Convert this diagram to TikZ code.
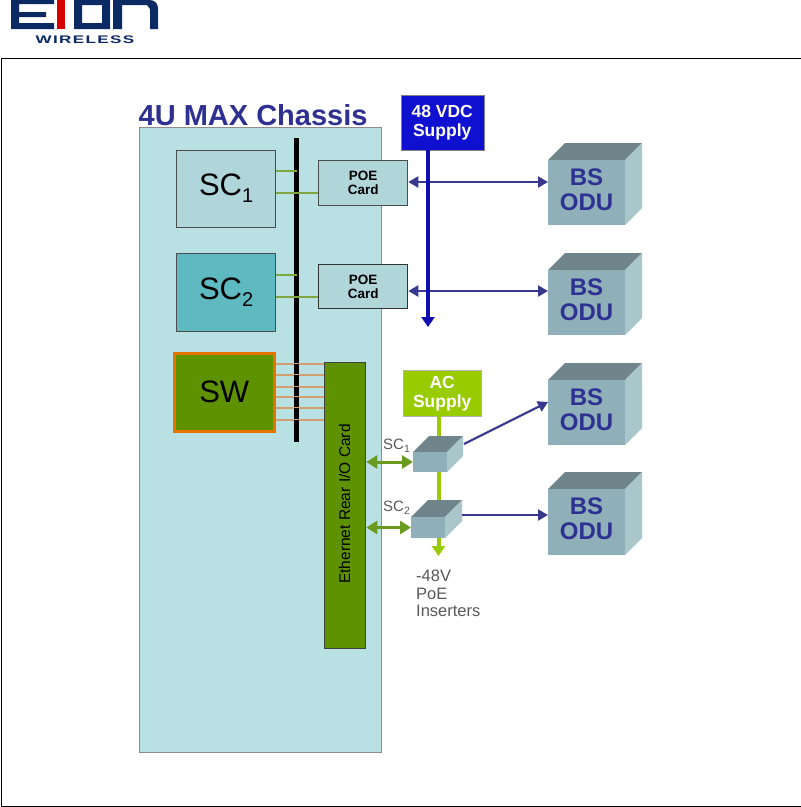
\documentclass[tikz,border=0pt]{standalone}
\usepackage{fontspec}
\setmainfont{Liberation Sans}
\usetikzlibrary{arrows.meta,calc}
\definecolor{navy}{HTML}{0B2A63}
\definecolor{chassis}{HTML}{B9E0E2}
\definecolor{indigo}{HTML}{2E3192}
\definecolor{cubefront}{HTML}{8FB0B8}
\definecolor{cubetop}{HTML}{6F858B}
\definecolor{cubeside}{HTML}{A9C6CB}
\definecolor{swgreen}{HTML}{5F9200}
\definecolor{limeg}{HTML}{99CC00}
\definecolor{arrowg}{HTML}{6A9A1F}
\definecolor{dkblue}{HTML}{38388E}
\definecolor{pureblue}{HTML}{1010D0}
\definecolor{wire}{HTML}{D2A070}
\definecolor{sctwo}{HTML}{5FB9C0}
\definecolor{scone}{HTML}{B0D6DC}
\definecolor{gwirec}{HTML}{7FA63F}
\tikzset{
  x=1pt,y=-1pt,
  box/.style={draw=#1,line width=1.3pt,anchor=north west,inner sep=0pt,align=center},
  odutext/.style={text=indigo,font=\bfseries\fontsize{24}{25}\selectfont,align=center,inner sep=0pt},
  supply/.style={anchor=north west,inner sep=0pt,align=center,text=white,font=\bfseries\fontsize{17.5}{19}\selectfont},
  poetext/.style={font=\bfseries\fontsize{13.5}{14}\selectfont},
  lab/.style={text=black!65,font=\fontsize{15}{16}\selectfont,inner sep=0pt},
  gwire/.style={draw=gwirec,line width=1.4pt},
  owire/.style={draw=wire,line width=1.3pt},
  bluearrow/.style={draw=dkblue,line width=2.2pt,arrows={Triangle[length=10pt,width=11pt]-Triangle[length=10pt,width=11pt]}},
  bluesingle/.style={draw=dkblue,line width=2.2pt,-{Triangle[length=10pt,width=11pt]}},
  greenarrow/.style={draw=arrowg,line width=3pt,arrows={Triangle[length=11pt,width=13pt]-Triangle[length=11pt,width=13pt]}},
  limeline/.style={draw=limeg,line width=4pt}
}
\newcommand{\subbig}[1]{\raisebox{-7pt}{\fontsize{20}{20}\selectfont #1}}
\newcommand{\subsmall}[1]{\raisebox{-3pt}{\fontsize{10.5}{10.5}\selectfont #1}}
% name, x, y(front top), w, h, dx, dy
\newcommand{\cubeshape}[7]{%
  \fill[cubetop] (#2,#3) -- ++(#6,-#7) -- ++(#4,0) -- ($(#2,#3)+(#4,0)$) -- cycle;
  \fill[cubeside] ($(#2,#3)+(#4,0)$) -- ++(#6,-#7) -- ++(0,#5) -- ($(#2,#3)+(#4,#5)$) -- cycle;
  \node[fill=cubefront,anchor=north west,minimum width=#4 pt,minimum height=#5 pt,inner sep=0pt,outer sep=0pt] (#1) at (#2,#3) {};
}
\begin{document}
\begin{tikzpicture}
\useasboundingbox (0,0) rectangle (801,807);
\fill[white] (0,0) rectangle (801,807);
% logo
\fill[navy] (11,0) -- (54,0) -- (54,4) -- (19,4) -- (19,12) -- (46,12) -- (46,17) -- (19,17) -- (19,23) -- (54,23) -- (54,29) -- (11,29) -- cycle;
\fill[red!85!black] (57,0) rectangle (65,29);
\fill[navy,even odd rule] (74,0) rectangle (110,29) (82,5) rectangle (102,23);
\fill[navy] (113,29) -- (113,0) -- (150,0) to[out=0,in=90] (158,8) -- (158,29) -- (150,29) -- (150,9) -- (147,5) -- (122,5) -- (122,29) -- cycle;
\node[inner sep=0pt,text=navy,font=\bfseries\fontsize{11}{12}\selectfont,xscale=1.55,transform shape] (wl) at (85,39.5) {\addfontfeature{LetterSpace=8}WIRELESS};
% frame
\node[draw=black,line width=1pt,anchor=north west,minimum width=800pt,minimum height=748pt,inner sep=0pt] (frame) at (0.5,58.3) {};
% chassis
\node[anchor=south west,inner sep=0pt,text=indigo,font=\bfseries\fontsize{29}{30}\selectfont] (title) at (138.5,126) {4U MAX Chassis};
\node[box=black!45,fill=chassis,minimum width=242pt,minimum height=625pt] (chassis) at (139,127) {};
% cards
\node[box=black!70,fill=scone,minimum width=99pt,minimum height=77pt,font=\fontsize{31}{32}\selectfont] (sc1) at (176,149.5) {SC\subbig{1}};
\node[box=black!70,fill=sctwo,minimum width=99pt,minimum height=78pt,font=\fontsize{31}{32}\selectfont] (sc2) at (176,253) {SC\subbig{2}};
\node[draw=orange!90!black,line width=2.5pt,fill=swgreen,anchor=north west,inner sep=0pt,minimum width=100pt,minimum height=78pt,font=\fontsize{31}{32}\selectfont] (sw) at (173,352) {SW};
\fill[black] (294,138) rectangle (299,442);
\coordinate (bus) at (296.5,290);
\node[box=black!70,fill=chassis!80!cubefront,minimum width=89pt,minimum height=45pt,poetext] (poe1) at (318,160) {POE\\Card};
\node[box=black!80,fill=chassis!80!cubefront,minimum width=89pt,minimum height=44pt,poetext] (poe2) at (318,264) {POE\\Card};
\node[box=black!75,fill=swgreen,minimum width=41pt,minimum height=286pt] (eth) at (324,362) {};
\node[rotate=90,inner sep=0pt,font=\fontsize{15.5}{16}\selectfont] (ethlab) at (344.5,504) {Ethernet Rear I/O Card};
% wires
\draw[gwire] (sc1.east |- 0,171) -- (bus |- 0,171);
\draw[gwire] (sc1.east |- 0,193) -- (poe1.west |- 0,193);
\draw[gwire] (sc2.east |- 0,275) -- (bus |- 0,275);
\draw[gwire] (sc2.east |- 0,297) -- (poe2.west |- 0,297);
\foreach \yy in {364,375,387,397,408,420}{
  \draw[owire] (sw.east |- 0,\yy) -- (eth.west |- 0,\yy);
  \fill[black] (294,\yy-0.5) rectangle (299,\yy+0.5);
}
% supplies
\node[fill=pureblue,draw=black!50,supply,minimum width=83pt,minimum height=55pt] (vdc) at (400.5,95) {48 VDC\\Supply};
\node[fill=limeg,draw=black!30,supply,minimum width=78pt,minimum height=46pt] (ac) at (403,370) {AC\\Supply};
% cubes
\cubeshape{odu1}{548}{160}{77}{65}{17}{17}
\cubeshape{odu2}{548}{270}{77}{65}{17}{17}
\cubeshape{odu3}{548}{380}{77}{65}{17}{17}
\cubeshape{odu4}{548}{489}{77}{66}{17}{17}
\node[odutext] at ($(odu1.center)+(0,-3)$) {BS\\ODU};
\node[odutext] at ($(odu2.center)+(0,-3)$) {BS\\ODU};
\node[odutext] at ($(odu3.center)+(0,-3)$) {BS\\ODU};
\node[odutext] at ($(odu4.center)+(0,-3)$) {BS\\ODU};
% connectors
\draw[bluearrow] (poe1.east |- 0,182) -- (odu1.west |- 0,182);
\draw[bluearrow] (poe2.east |- 0,291) -- (odu2.west |- 0,291);
\coordinate (vdcend) at (428,327);
\draw[draw=pureblue!85!black,line width=3.5pt,-{Triangle[length=10pt,width=13pt]}] (vdc.south -| vdcend) -- (vdcend);
\coordinate (acend) at (438.5,556);
\draw[limeline] (ac.south -| acend) -- (438.5,440);
\cubeshape{ins1}{413}{452}{34}{20}{16}{16}
\draw[limeline] (438.5,472) -- (438.5,502);
\cubeshape{ins2}{411}{517}{34}{21}{17}{17}
\draw[limeline,-{Triangle[length=10pt,width=13pt]}] (438.5,538) -- (acend);
\draw[greenarrow] (eth.east |- ins1.west) -- (ins1.west);
\draw[greenarrow] (eth.east |- ins2.west) -- (ins2.west);
\coordinate (ins1out) at (464,444);
\coordinate (ins2out) at (462,515);
\draw[bluesingle] (ins1out) -- (odu3.west |- 0,402);
\draw[bluesingle] (ins2out) -- (odu4.west |- ins2out);
% labels
\node[lab,anchor=west] (l1) at (383,446) {SC\subsmall{1}};
\node[lab,anchor=west] (l2) at (383,508) {SC\subsmall{2}};
\node[lab,anchor=north west,align=left,font=\fontsize{16.5}{17.5}\selectfont] (poel) at (416,570) {-48V\\PoE\\Inserters};
\end{tikzpicture}
\end{document}
